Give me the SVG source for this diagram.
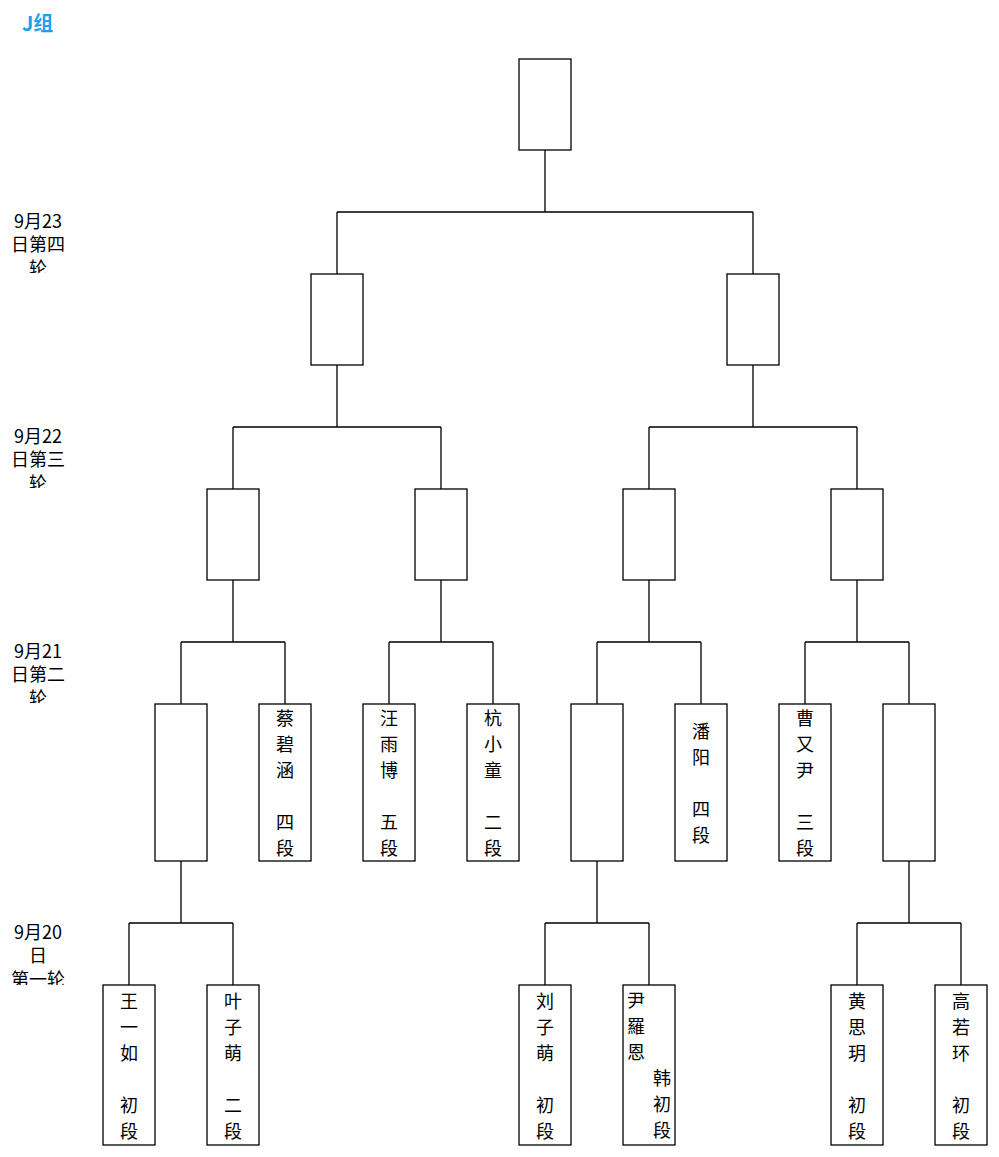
<svg xmlns="http://www.w3.org/2000/svg" width="999" height="1157" viewBox="0 0 999 1157">
<style>
.box{fill:#fff;stroke:#000;stroke-width:1.3}
.c{fill:none;stroke:#000;stroke-width:1.3}
text{font-family:"Noto Sans CJK SC","Liberation Sans",sans-serif;font-size:18px;fill:#000;text-anchor:middle}
.title{font-size:20px;font-weight:bold;fill:#1AA3E8;text-anchor:start}
</style>
<defs>
<clipPath id="c4"><rect x="0" y="200" width="90" height="73"/></clipPath>
<clipPath id="c3"><rect x="0" y="415" width="90" height="73"/></clipPath>
<clipPath id="c2"><rect x="0" y="630" width="90" height="73"/></clipPath>
<clipPath id="c1"><rect x="0" y="910" width="90" height="75"/></clipPath>
</defs>
<rect width="999" height="1157" fill="#fff"/>
<text class="title" x="22" y="31">J组</text>
<g id="labels">
<g clip-path="url(#c4)"><text x="38" y="227.5">9月23</text><text x="38" y="251">日第四</text><text x="38" y="274.5">轮</text></g>
<g clip-path="url(#c3)"><text x="38" y="442.5">9月22</text><text x="38" y="466">日第三</text><text x="38" y="489.5">轮</text></g>
<g clip-path="url(#c2)"><text x="38" y="657.5">9月21</text><text x="38" y="681">日第二</text><text x="38" y="704.5">轮</text></g>
<g clip-path="url(#c1)"><text x="38" y="938.5">9月20</text><text x="38" y="962">日</text><text x="38" y="985.5">第一轮</text></g>
</g>
<g id="connectors">
<path class="c" d="M545 150V212M337 212H753M337 212V274M753 212V274"/>
<path class="c" d="M337 365V427M233 427H441M233 427V489M441 427V489"/>
<path class="c" d="M753 365V427M649 427H857M649 427V489M857 427V489"/>
<path class="c" d="M233 580V642M181 642H285M181 642V704M285 642V704"/>
<path class="c" d="M441 580V642M389 642H493M389 642V704M493 642V704"/>
<path class="c" d="M649 580V642M597 642H701M597 642V704M701 642V704"/>
<path class="c" d="M857 580V642M805 642H909M805 642V704M909 642V704"/>
<path class="c" d="M181 861V923M129 923H233M129 923V985M233 923V985"/>
<path class="c" d="M597 861V923M545 923H649M545 923V985M649 923V985"/>
<path class="c" d="M909 861V923M857 923H961M857 923V985M961 923V985"/>
</g>
<g id="final"><rect class="box" x="519" y="59" width="52" height="91"/></g>
<g id="semi-1"><rect class="box" x="311" y="274" width="52" height="91"/></g>
<g id="semi-2"><rect class="box" x="727" y="274" width="52" height="91"/></g>
<g id="r3-1"><rect class="box" x="207" y="489" width="52" height="91"/></g>
<g id="r3-2"><rect class="box" x="415" y="489" width="52" height="91"/></g>
<g id="r3-3"><rect class="box" x="623" y="489" width="52" height="91"/></g>
<g id="r3-4"><rect class="box" x="831" y="489" width="52" height="91"/></g>
<g id="r2-1"><rect class="box" x="155" y="704" width="52" height="157"/></g>
<g id="r2-cai"><rect class="box" x="259" y="704" width="52" height="157"/>
<text x="285" y="724.5">蔡</text><text x="285" y="750.5">碧</text><text x="285" y="776.5">涵</text><text x="285" y="828.5">四</text><text x="285" y="854.5">段</text></g>
<g id="r2-wang"><rect class="box" x="363" y="704" width="52" height="157"/>
<text x="389" y="724.5">汪</text><text x="389" y="750.5">雨</text><text x="389" y="776.5">博</text><text x="389" y="828.5">五</text><text x="389" y="854.5">段</text></g>
<g id="r2-hang"><rect class="box" x="467" y="704" width="52" height="157"/>
<text x="493" y="724.5">杭</text><text x="493" y="750.5">小</text><text x="493" y="776.5">童</text><text x="493" y="828.5">二</text><text x="493" y="854.5">段</text></g>
<g id="r2-5"><rect class="box" x="571" y="704" width="52" height="157"/></g>
<g id="r2-pan"><rect class="box" x="675" y="704" width="52" height="157"/>
<text x="701" y="738">潘</text><text x="701" y="764">阳</text><text x="701" y="816">四</text><text x="701" y="842">段</text></g>
<g id="r2-cao"><rect class="box" x="779" y="704" width="52" height="157"/>
<text x="805" y="724.5">曹</text><text x="805" y="750.5">又</text><text x="805" y="776.5">尹</text><text x="805" y="828.5">三</text><text x="805" y="854.5">段</text></g>
<g id="r2-8"><rect class="box" x="883" y="704" width="52" height="157"/></g>
<g id="r1-wang"><rect class="box" x="103" y="985" width="52" height="160"/>
<text x="129" y="1007.5">王</text><text x="129" y="1033.5">一</text><text x="129" y="1059.5">如</text><text x="129" y="1111.5">初</text><text x="129" y="1137.5">段</text></g>
<g id="r1-ye"><rect class="box" x="207" y="985" width="52" height="160"/>
<text x="233" y="1007.5">叶</text><text x="233" y="1033.5">子</text><text x="233" y="1059.5">萌</text><text x="233" y="1111.5">二</text><text x="233" y="1137.5">段</text></g>
<g id="r1-liu"><rect class="box" x="519" y="985" width="52" height="160"/>
<text x="545" y="1007.5">刘</text><text x="545" y="1033.5">子</text><text x="545" y="1059.5">萌</text><text x="545" y="1111.5">初</text><text x="545" y="1137.5">段</text></g>
<g id="r1-yin"><rect class="box" x="623" y="985" width="52" height="160"/>
<text x="636" y="1007">尹</text><text x="636" y="1033">羅</text><text x="636" y="1059">恩</text><text x="662" y="1085">韩</text><text x="662" y="1111">初</text><text x="662" y="1137">段</text></g>
<g id="r1-huang"><rect class="box" x="831" y="985" width="52" height="160"/>
<text x="857" y="1007.5">黄</text><text x="857" y="1033.5">思</text><text x="857" y="1059.5">玥</text><text x="857" y="1111.5">初</text><text x="857" y="1137.5">段</text></g>
<g id="r1-gao"><rect class="box" x="935" y="985" width="52" height="160"/>
<text x="961" y="1007.5">高</text><text x="961" y="1033.5">若</text><text x="961" y="1059.5">环</text><text x="961" y="1111.5">初</text><text x="961" y="1137.5">段</text></g>
</svg>
